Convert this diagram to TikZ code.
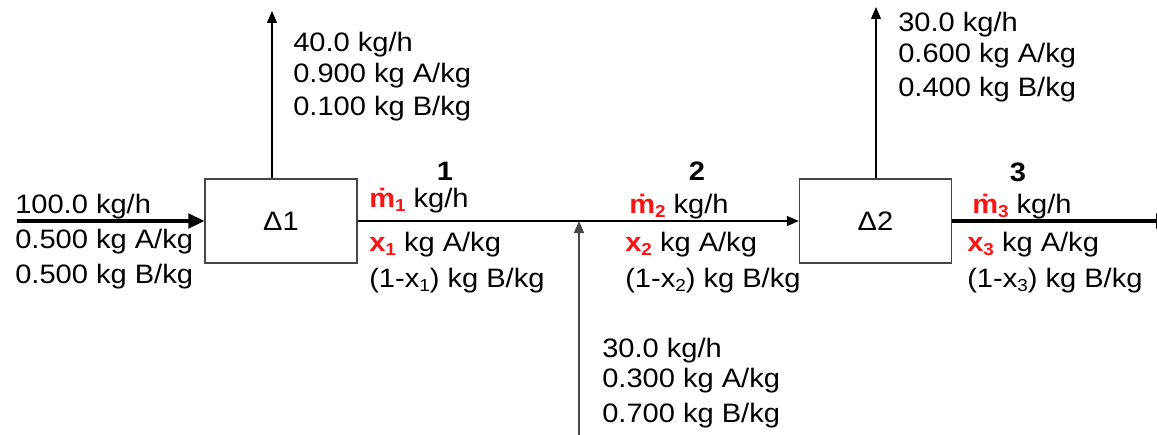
\documentclass[tikz,border=0pt]{standalone}
\usepackage{fontspec}
\setmainfont[FakeStretch=1.09]{Liberation Sans}
\usetikzlibrary{arrows.meta}
\definecolor{mred}{RGB}{250,20,20}
\definecolor{boxgray}{RGB}{70,70,70}
\newcommand\lowidx[1]{\raisebox{-0.35ex}{\fontsize{13}{13}\selectfont #1}}
\newcommand\mdotred[1]{{\color{mred}\bfseries m^^^^0307\lowidx{#1}}}
\newcommand\xred[1]{{\color{mred}\bfseries x\lowidx{#1}}}
\begin{document}
\begin{tikzpicture}[x=0.75pt,y=-0.75pt,
  lbl/.style={anchor=base west, inner sep=0pt, font=\fontsize{20}{24}\selectfont},
  numlbl/.style={anchor=base, inner sep=0pt, font=\fontsize{20}{24}\selectfont\bfseries},
  unitbox/.style={draw=boxgray, line width=1pt, minimum width=114pt, minimum height=63pt, inner sep=0pt, font=\fontsize{20}{24}\selectfont},
  thin/.style={line width=0.9pt, -{Triangle[length=9pt,width=7.5pt]}},
  thick/.style={line width=2.3pt, -{Triangle[length=12pt,width=11pt]}}
]
\useasboundingbox (0,0) rectangle (1157,435);

% units
\node[unitbox] (b1) at (281,221) {Δ1};
\node[unitbox] (b2) at (875.5,221) {Δ2};

% helper coordinates
\coordinate (in0) at (17,221);
\coordinate (top1) at (272,11);
\coordinate (top2) at (876,7);
\coordinate (bot) at (579,440);
\coordinate (out3) at (1172,221);

% connectors
\draw[thick] (in0) -- (b1.west);
\draw[thin] (b1.east) -- (b2.west);
\draw[thin] (top1 |- b1.north) -- (top1);
\draw[thin] (top2 |- b2.north) -- (top2);
\draw[thin, draw=boxgray] (bot) -- (bot |- b1.east);
\draw[thick] (b2.east) -- (out3);

% feed
\node[lbl] (f1) at (15,213) {100.0 kg/h};
\node[lbl] (f2) at (15,248) {0.500 kg A/kg};
\node[lbl] (f3) at (15,283) {0.500 kg B/kg};

% top product 1
\node[lbl] (t1a) at (293,52) {40.0 kg/h};
\node[lbl] (t1b) at (293,83) {0.900 kg A/kg};
\node[lbl] (t1c) at (293,115) {0.100 kg B/kg};

% top product 2
\node[lbl] (t2a) at (898,32) {30.0 kg/h};
\node[lbl] (t2b) at (898,63) {0.600 kg A/kg};
\node[lbl] (t2c) at (898,97) {0.400 kg B/kg};

% bottom feed
\node[lbl] (u1) at (602,357) {30.0 kg/h};
\node[lbl] (u2) at (602,387) {0.300 kg A/kg};
\node[lbl] (u3) at (602,422) {0.700 kg B/kg};

% stream 1
\node[numlbl] (n1) at (445,180) {1};
\node[lbl] (s1a) at (369,207) {\mdotred{1} kg/h};
\node[lbl] (s1b) at (369,251) {\xred{1} kg A/kg};
\node[lbl] (s1c) at (369,287) {(1-x\lowidx{1}) kg B/kg};

% stream 2
\node[numlbl] (n2) at (697,180) {2};
\node[lbl] (s2a) at (629,213) {\mdotred{2} kg/h};
\node[lbl] (s2b) at (625,251) {\xred{2} kg A/kg};
\node[lbl] (s2c) at (625,287) {(1-x\lowidx{2}) kg B/kg};

% stream 3
\node[numlbl] (n3) at (1018,181) {3};
\node[lbl] (s3a) at (972,213) {\mdotred{3} kg/h};
\node[lbl] (s3b) at (967,251) {\xred{3} kg A/kg};
\node[lbl] (s3c) at (967,287) {(1-x\lowidx{3}) kg B/kg};
\end{tikzpicture}
\end{document}
